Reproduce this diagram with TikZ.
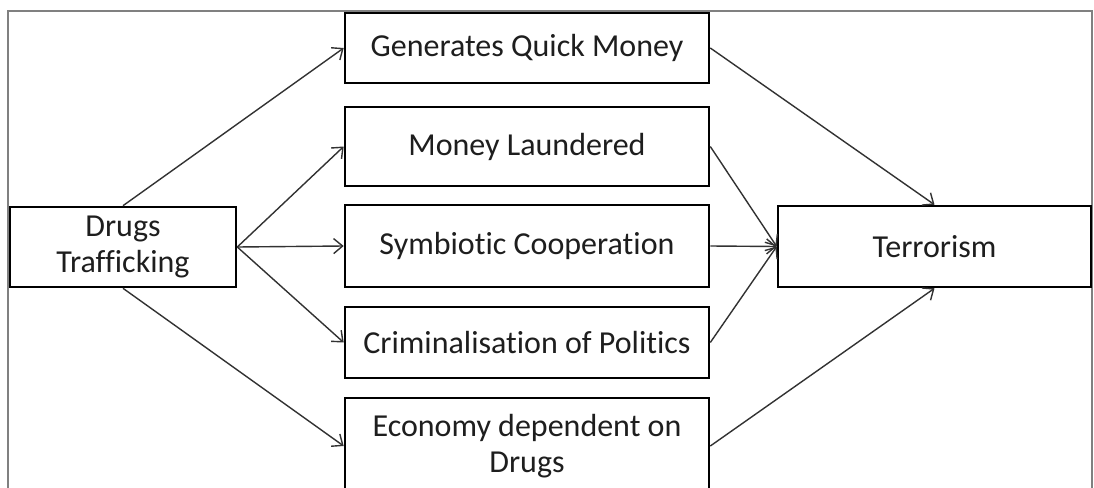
\documentclass[tikz,border=0pt]{standalone}
\usepackage{fontspec}
\setmainfont[Ligatures=CommonOff]{Carlito}
\usetikzlibrary{arrows.meta}
\definecolor{frame}{RGB}{128,128,128}
\definecolor{ink}{RGB}{30,30,30}
\definecolor{arrowc}{RGB}{50,50,50}
\tikzset{
  box/.style={draw=black, line width=2.6pt, fill=white, inner sep=0pt, align=center,
    text=ink, font=\fontsize{32}{36}\selectfont},
  conn/.style={draw=arrowc, line width=1.4pt, -{Straight Barb[length=9pt,width=15pt,line width=1.4pt]}}
}
\begin{document}
\begin{tikzpicture}[x=1pt,y=-1pt]
\useasboundingbox (0,0) rectangle (1094,487);
\fill[white] (0,0) rectangle (1094,487);
\clip (0,0) rectangle (1094,487);
\draw[frame, line width=2pt] (8,500) -- (8,11) -- (1092,11) -- (1092,500);
\node[box, minimum width=364pt, minimum height=70pt] (gen) at (527,48) {Generates Quick Money};
\node[box, minimum width=364pt, minimum height=79pt] (ml) at (527,146.5) {Money Laundered};
\node[box, minimum width=364pt, minimum height=82pt] (sym) at (527,246) {Symbiotic Cooperation};
\node[box, minimum width=364pt, minimum height=71pt] (crim) at (527,342.5) {Criminalisation of Politics};
\node[box, minimum width=364pt, minimum height=96pt] (econ) at (527,446) {Economy dependent on\\Drugs};
\node[box, minimum width=226pt, minimum height=80pt] (drugs) at (123,247) {Drugs\\Trafficking};
\node[box, minimum width=313pt, minimum height=81pt] (terr) at (934.5,246.5) {Terrorism};
\draw[conn] (drugs.north) -- (gen.west);
\draw[conn] (drugs.east) -- (ml.west);
\draw[conn] (drugs.east) -- (sym.west);
\draw[conn] (drugs.east) -- (crim.west);
\draw[conn] (drugs.south) -- (econ.west);
\draw[conn] (gen.east) -- (terr.north);
\draw[conn] (ml.east) -- (terr.west);
\draw[conn] (sym.east) -- (terr.west);
\draw[conn] (crim.east) -- (terr.west);
\draw[conn] (econ.east) -- (terr.south);
\end{tikzpicture}
\end{document}
